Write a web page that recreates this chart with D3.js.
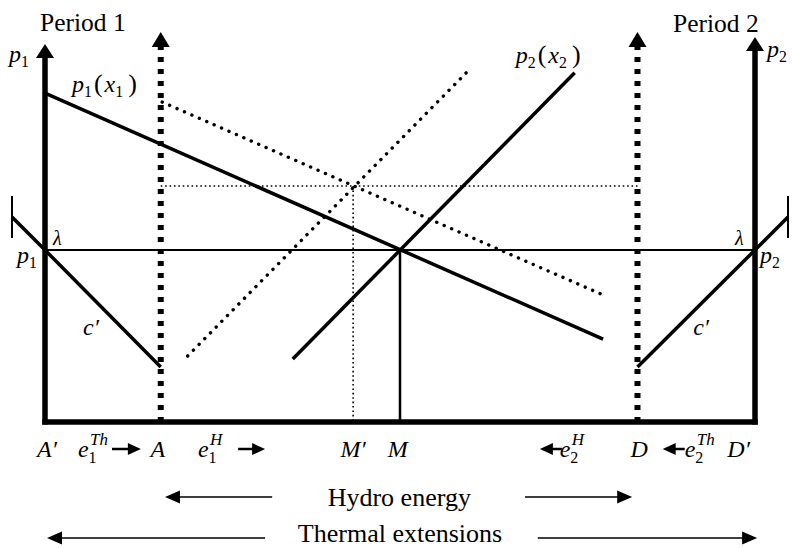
<!DOCTYPE html>
<html><head><meta charset="utf-8">
<script src="https://cdn.jsdelivr.net/npm/d3@7"></script>
<style>
html,body{margin:0;padding:0;background:#fff;}
svg{display:block;}
svg text, svg tspan{font-family:"Liberation Serif", "DejaVu Serif", serif !important;}
</style></head><body>
<svg id="c" width="792" height="548"></svg>
<script>
// ---- data (quantity axis: 0 = A', 100 = D'; price axis: lambda = 50) ----
const xMarks = ["A\u2032", "A", "M\u2032", "M", "D", "D\u2032"];
const xMarkValues = [0, 16.3, 43.4, 50, 83.45, 100];
const xMarkLabelPos = [0.28, 15.9, 43.4, 49.7, 83.7, 97.7];
const lambdaPrice = 50;
const axisTops = [109.9, 113.4, 113.4, 111.9];          // A', A, D, D'
const p1Curve = [[0, 95.6], [78.6, 24.1]];
const p2Curve = [[34.9, 18.3], [74.6, 101.5]];
const p1Shifted = [[16.5, 93.0], [78.3, 37.2]];
const p2Shifted = [[20.1, 19.2], [59.7, 102.3]];
const shiftedEq = [43.4, 68.6];
const c1Curve = [[-4.65, 59.6], [0, 50], [16.3, 16.0]];
const c2Curve = [[104.65, 59.6], [100, 50], [83.45, 16.0]];
const capValues = [[-4.65, 53.5, 65.7], [104.65, 53.5, 65.7]];
const eArrows = [[9.44, 13.5], [27.2, 31.0], [72.8, 69.7], [90.1, 87.0]];
const eLabels = [
  {u: 4.65, sub: "1", sup: "Th"},
  {u: 21.55, sub: "1", sup: "H"},
  {u: 72.5, sub: "2", sup: "H"},
  {u: 90.1, sub: "2", sup: "Th"}
];
const bigArrows = [[32.0, 16.9, -21.8], [67.6, 82.7, -21.8], [31.0, 0.28, -33.7], [69.4, 100.3, -33.7]];
const bigTexts = [["Hydro energy", 49.9, -24.4], ["Thermal extensions", 50, -34.9]];

const x = d3.scaleLinear().domain([0, 100]).range([45, 755]);
const y = d3.scaleLinear().domain([0, 50]).range([422, 250]);
const svg = d3.select("#c");
const line = d3.line().x(d => x(d[0])).y(d => y(d[1]));

function arrowHead(tx, ty, dir, len, hw) {
  let pts;
  if (dir === "up") pts = [[tx, ty], [tx - hw, ty + len], [tx + hw, ty + len]];
  else if (dir === "right") pts = [[tx, ty], [tx - len, ty - hw], [tx - len, ty + hw]];
  else pts = [[tx, ty], [tx + len, ty - hw], [tx + len, ty + hw]];
  svg.append("path").attr("d", "M" + pts.map(p => p.join(",")).join("L") + "Z").attr("fill", "#000");
}

svg.append("line").attr("x1", x(0)).attr("x2", x(100)).attr("y1", y(lambdaPrice)).attr("y2", y(lambdaPrice))
  .attr("stroke", "#000").attr("stroke-width", 2);

svg.append("line").attr("x1", x(xMarkValues[1])).attr("x2", x(xMarkValues[4]))
  .attr("y1", y(shiftedEq[1])).attr("y2", y(shiftedEq[1]))
  .attr("stroke", "#000").attr("stroke-width", 1.6).attr("stroke-dasharray", "1.6,2.8");
svg.append("line").attr("x1", x(shiftedEq[0])).attr("x2", x(shiftedEq[0]))
  .attr("y1", y(shiftedEq[1])).attr("y2", y(0))
  .attr("stroke", "#000").attr("stroke-width", 1.6).attr("stroke-dasharray", "1.6,2.8");

svg.append("line").attr("x1", x(xMarkValues[3])).attr("x2", x(xMarkValues[3]))
  .attr("y1", y(lambdaPrice)).attr("y2", y(0)).attr("stroke", "#000").attr("stroke-width", 2.5);

[p1Shifted, p2Shifted].forEach(c => {
  svg.append("path").attr("d", line(c)).attr("fill", "none").attr("stroke", "#000")
    .attr("stroke-width", 3.4).attr("stroke-linecap", "round").attr("stroke-dasharray", "0.1,8");
});

[p1Curve, p2Curve, c1Curve, c2Curve].forEach(c => {
  svg.append("path").attr("d", line(c)).attr("fill", "none").attr("stroke", "#000")
    .attr("stroke-width", 3.5);
});
capValues.forEach(c => {
  svg.append("line").attr("x1", x(c[0])).attr("x2", x(c[0])).attr("y1", y(c[1])).attr("y2", y(c[2]))
    .attr("stroke", "#000").attr("stroke-width", 2);
});

const axisIdx = [0, 1, 4, 5];
axisIdx.forEach((mi, k) => {
  const xp = x(xMarkValues[mi]);
  const tip = y(axisTops[k]);
  const dotted = (k === 1 || k === 2);
  if (dotted) {
    svg.append("line").attr("x1", xp).attr("x2", xp).attr("y1", y(0)).attr("y2", tip + 14)
      .attr("stroke", "#000").attr("stroke-width", 6).attr("stroke-dasharray", "5,7");
    arrowHead(xp, tip, "up", 15, 9);
  } else {
    svg.append("line").attr("x1", xp).attr("x2", xp).attr("y1", y(0) + 2.5).attr("y2", tip + 10)
      .attr("stroke", "#000").attr("stroke-width", 5.5);
    arrowHead(xp, tip, "up", 14, 9);
  }
});
svg.append("line").attr("x1", x(0) - 2.75).attr("x2", x(100) + 2.75).attr("y1", y(0)).attr("y2", y(0))
  .attr("stroke", "#000").attr("stroke-width", 5.5);

function addText(xp, yp, parts, size, anchor) {
  const t = svg.append("text").attr("x", xp).attr("y", yp)
    .style("font-size", size + "px").attr("fill", "#000")
    .attr("text-anchor", anchor || "start");
  let off = 0;
  parts.forEach(p => {
    const target = p.k === "sub" ? size * 0.2 : (p.k === "sup" ? -size * 0.45 : 0);
    const ts = t.append("tspan").text(p.t).attr("dy", target - off)
      .style("font-size", (p.k ? size * 0.66 : (p.s || size)) + "px")
      .style("font-style", p.i ? "italic" : "normal");
    if (p.dx) ts.attr("dx", p.dx);
    off = target;
  });
  return t;
}
const P = (t, i, k, dx, s) => ({t, i, k, dx, s});

addText(x(-0.7), y(113.7), [P("Period 1")], 25.5);
addText(x(88.45), y(113.4), [P("Period 2")], 25.5);
addText(x(-5.07), y(104.65), [P("p", 1), P("1", 0, "sub")], 24);
addText(x(101.7), y(106.1), [P("p", 1), P("2", 0, "sub")], 24);
addText(x(-3.94), y(46.2), [P("p", 1), P("1", 0, "sub")], 24);
addText(x(100.7), y(46.2), [P("p", 1), P("2", 0, "sub")], 24);
addText(x(3.8), y(95.9), [P("p", 1), P("1", 0, "sub"), P("(", 0, null, 2, 26), P("x", 1, null, 2),
  P("1", 0, "sub"), P(")", 0, null, 5, 26)], 24);
addText(x(66.3), y(104.4), [P("p", 1), P("2", 0, "sub"), P("(", 0, null, 2, 26), P("x", 1, null, 2),
  P("2", 0, "sub"), P(")", 0, null, 5, 26)], 24);
addText(x(1.13), y(51.45), [P("\u03bb", 1)], 20);
addText(x(97.2), y(51.45), [P("\u03bb", 1)], 20);
addText(x(5.35), y(25.3), [P("c\u2032", 1)], 24);
addText(x(91.3), y(25.3), [P("c\u2032", 1)], 24);

xMarks.forEach((m, i) => {
  addText(x(xMarkLabelPos[i]), y(-10.17), [P(m, 1)], 24, "middle");
});
eLabels.forEach(e => {
  const xp = x(e.u), yp = y(-10.17);
  addText(xp, yp, [P("e", 1)], 24);
  addText(xp + 10.5, yp + 6, [P(e.sub)], 16);
  addText(xp + 12, yp - 12, [P(e.sup, 1)], 17);
});
eArrows.forEach(a => {
  const yp = y(-7.85);
  const dir = a[1] > a[0] ? "right" : "left";
  const headLen = 13;
  const shaftEnd = dir === "right" ? x(a[1]) - headLen + 1 : x(a[1]) + headLen - 1;
  svg.append("line").attr("x1", x(a[0])).attr("x2", shaftEnd).attr("y1", yp).attr("y2", yp)
    .attr("stroke", "#000").attr("stroke-width", 2.5);
  arrowHead(x(a[1]), yp, dir, headLen, 6);
});
bigArrows.forEach(a => {
  const yp = y(a[2]);
  const dir = a[1] > a[0] ? "right" : "left";
  const headLen = 15;
  const shaftEnd = dir === "right" ? x(a[1]) - headLen + 1 : x(a[1]) + headLen - 1;
  svg.append("line").attr("x1", x(a[0])).attr("x2", shaftEnd).attr("y1", yp).attr("y2", yp)
    .attr("stroke", "#000").attr("stroke-width", 1.6);
  arrowHead(x(a[1]), yp, dir, headLen, 6.5);
});
bigTexts.forEach(b => {
  addText(x(b[1]), y(b[2]), [P(b[0])], 26, "middle");
});
</script>
</body></html>
